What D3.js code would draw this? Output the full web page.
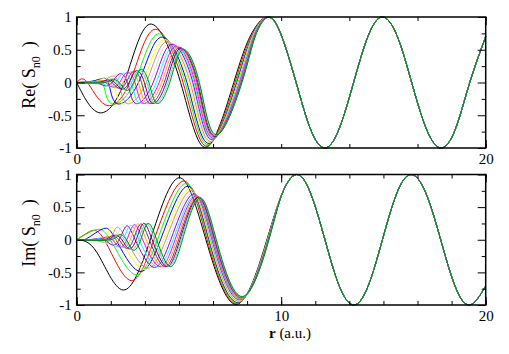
<!DOCTYPE html>
<html>
<head>
<meta charset="utf-8">
<script src="https://cdn.jsdelivr.net/npm/d3@7"></script>
<style>
  body { margin: 0; background: #fff; }
</style>
</head>
<body>
<div id="chart"></div>
<script>
// tick labels
const xLabelsTop = [0, 20]
const xLabelsBottom = [0, 10, 20]
const yLabels = [-1, -0.5, 0, 0.5, 1]

// xmgrace default palette, one colour per curve
const colors = ['#000000', '#ff0000', '#00ff00', '#0000ff', '#ffff00', '#bc8f8f', '#dcdcdc', '#9400d3',
  '#00ffff', '#ff00ff', '#ffa500', '#7221bc', '#670748', '#40e0d0', '#008b00']

// Re(S_n0): knots [r, value], one list per curve (up to the merge near r = 9.4)
const reHeads = [
  [[0, 0], [1.08, -0.46], [2.32, 0], [3.57, 0.89], [5.08, 0], [6.32, -0.99], [7.68, 0], [8.49, 0.71], [9.3, 1]],
  [[0, 0], [0.5, 0.01], [1.4, -0.34], [2.59, 0], [3.78, 0.81], [5.2, 0], [6.38, -0.97], [7.74, 0], [8.53, 0.71], [9.31, 1]],
  [[0, 0], [0.4, 0.01], [0.88, 0.03], [1.28, 0], [1.68, -0.32], [2.82, 0], [3.95, 0.74], [5.3, 0], [6.43, -0.95], [7.79, 0], [8.56, 0.71], [9.32, 1]],
  [[0, 0], [0.6, 0.01], [1.15, 0.05], [1.55, 0], [1.95, -0.32], [3.02, 0], [4.1, 0.69], [5.39, 0], [6.47, -0.93], [7.83, 0], [8.58, 0.71], [9.33, 1]],
  [[0, 0], [0.8, 0.01], [1.4, 0.07], [1.8, 0], [2.2, -0.32], [3.22, 0], [4.23, 0.65], [5.47, 0], [6.51, -0.91], [7.87, 0], [8.6, 0.71], [9.34, 1]],
  [[0, 0], [0.5, -0.005], [0.95, -0.02], [1.3, 0], [1.65, 0.09], [2.05, 0], [2.45, -0.32], [3.4, 0], [4.36, 0.62], [5.55, 0], [6.55, -0.9], [7.9, 0], [8.63, 0.71], [9.35, 1]],
  [[0, 0], [0.6, -0.005], [1.17, -0.03], [1.52, 0], [1.87, 0.11], [2.27, 0], [2.67, -0.32], [3.58, 0], [4.48, 0.6], [5.62, 0], [6.59, -0.88], [7.93, 0], [8.64, 0.71], [9.35, 1]],
  [[0, 0], [0.7, 0.005], [1.0, 0], [1.38, -0.05], [1.73, 0], [2.08, 0.13], [2.48, 0], [2.88, -0.32], [3.74, 0], [4.6, 0.58], [5.68, 0], [6.62, -0.87], [7.96, 0], [8.66, 0.71], [9.36, 1]],
  [[0, 0], [0.85, 0.01], [1.2, 0], [1.57, -0.06], [1.92, 0], [2.27, 0.14], [2.67, 0], [3.07, -0.32], [3.89, 0], [4.71, 0.56], [5.74, 0], [6.65, -0.86], [7.98, 0], [8.67, 0.71], [9.36, 1]],
  [[0, 0], [0.7, 0], [1.05, 0.02], [1.4, 0], [1.75, -0.07], [2.1, 0], [2.45, 0.15], [2.85, 0], [3.25, -0.32], [4.03, 0], [4.81, 0.55], [5.79, 0], [6.68, -0.85], [8.0, 0], [8.69, 0.71], [9.37, 1]],
  [[0, 0], [0.85, 0], [1.22, 0.03], [1.57, 0], [1.92, -0.08], [2.27, 0], [2.62, 0.16], [3.02, 0], [3.42, -0.32], [4.16, 0], [4.9, 0.54], [5.84, 0], [6.71, -0.84], [8.02, 0], [8.7, 0.71], [9.37, 1]],
  [[0, 0], [1.0, 0], [1.37, 0.03], [1.72, 0], [2.07, -0.09], [2.42, 0], [2.77, 0.17], [3.17, 0], [3.57, -0.32], [4.28, 0], [4.98, 0.53], [5.89, 0], [6.74, -0.83], [8.04, 0], [8.71, 0.71], [9.38, 1]],
  [[0, 0], [1.15, 0], [1.51, 0.04], [1.86, 0], [2.21, -0.1], [2.56, 0], [2.91, 0.18], [3.31, 0], [3.71, -0.32], [4.38, 0], [5.05, 0.52], [5.93, 0], [6.77, -0.82], [8.06, 0], [8.72, 0.71], [9.38, 1]],
  [[0, 0], [1.25, 0], [1.63, 0.05], [1.98, 0], [2.33, -0.11], [2.68, 0], [3.03, 0.19], [3.43, 0], [3.83, -0.32], [4.47, 0], [5.11, 0.51], [5.97, 0], [6.8, -0.81], [8.07, 0], [8.73, 0.71], [9.39, 1]],
  [[0, 0], [1.35, 0], [1.73, 0.05], [2.08, 0], [2.43, -0.12], [2.78, 0], [3.13, 0.2], [3.53, 0], [3.93, -0.32], [4.55, 0], [5.17, 0.5], [6.0, 0], [6.83, -0.8], [8.08, 0], [8.74, 0.71], [9.4, 1]]
]
// common tail, all curves lie on top of each other here
const reTail = [[10.02, 0.71], [10.73, 0], [11.43, -0.71], [12.13, -1], [12.83, -0.71], [13.54, 0], [14.25, 0.71],
  [14.95, 1], [15.67, 0.71], [16.38, 0], [17.1, -0.71], [17.82, -1], [18.52, -0.71], [19.22, 0], [20, 0.7]]

// Im(S_n0)
const imHeads = [
  [[0, 0], [1.0, -0.2], [2.27, -0.77], [3.6, 0], [5.0, 0.95], [6.32, 0], [7.84, -0.99], [9.3, 0]],
  [[0, 0], [0.6, 0.12], [1.35, 0], [2.59, -0.62], [3.78, 0], [5.2, 0.9], [6.38, 0], [7.86, -0.98], [9.31, 0]],
  [[0, 0], [0.9, 0.15], [1.65, 0], [2.82, -0.53], [3.95, 0], [5.3, 0.86], [6.43, 0], [7.88, -0.97], [9.32, 0]],
  [[0, 0], [0.5, 0.02], [1.3, 0.17], [1.92, 0], [3.02, -0.48], [4.1, 0], [5.39, 0.82], [6.47, 0], [7.9, -0.96], [9.33, 0]],
  [[0, 0], [1.05, -0.02], [1.4, 0], [1.65, 0.18], [2.18, 0], [3.22, -0.45], [4.23, 0], [5.47, 0.78], [6.51, 0], [7.92, -0.95], [9.34, 0]],
  [[0, 0], [0.8, 0], [1.3, -0.04], [1.65, 0], [1.95, 0.19], [2.43, 0], [3.4, -0.43], [4.36, 0], [5.55, 0.75], [6.55, 0], [7.94, -0.94], [9.35, 0]],
  [[0, 0], [1.0, 0], [1.52, -0.06], [1.87, 0], [2.22, 0.2], [2.65, 0], [3.58, -0.42], [4.48, 0], [5.62, 0.72], [6.59, 0], [7.96, -0.93], [9.35, 0]],
  [[0, 0], [0.6, 0], [1.03, 0.02], [1.38, 0], [1.73, -0.08], [2.08, 0], [2.43, 0.21], [2.86, 0], [3.74, -0.42], [4.6, 0], [5.68, 0.7], [6.62, 0], [7.98, -0.92], [9.36, 0]],
  [[0, 0], [0.8, 0], [1.22, 0.03], [1.57, 0], [1.92, -0.1], [2.27, 0], [2.62, 0.22], [3.05, 0], [3.89, -0.41], [4.71, 0], [5.74, 0.68], [6.65, 0], [8.0, -0.91], [9.36, 0]],
  [[0, 0], [1.0, 0], [1.4, 0.04], [1.75, 0], [2.1, -0.11], [2.45, 0], [2.8, 0.23], [3.23, 0], [4.03, -0.41], [4.81, 0], [5.79, 0.67], [6.68, 0], [8.02, -0.9], [9.37, 0]],
  [[0, 0], [1.15, 0], [1.57, 0.05], [1.92, 0], [2.27, -0.12], [2.62, 0], [2.97, 0.24], [3.4, 0], [4.16, -0.41], [4.9, 0], [5.84, 0.66], [6.71, 0], [8.04, -0.9], [9.37, 0]],
  [[0, 0], [1.3, 0], [1.72, 0.06], [2.07, 0], [2.42, -0.13], [2.77, 0], [3.12, 0.24], [3.55, 0], [4.28, -0.41], [4.98, 0], [5.89, 0.65], [6.74, 0], [8.06, -0.89], [9.38, 0]],
  [[0, 0], [1.45, 0], [1.86, 0.07], [2.21, 0], [2.56, -0.14], [2.91, 0], [3.26, 0.25], [3.69, 0], [4.38, -0.41], [5.05, 0], [5.93, 0.65], [6.77, 0], [8.08, -0.88], [9.38, 0]],
  [[0, 0], [1.55, 0], [1.98, 0.07], [2.33, 0], [2.68, -0.15], [3.03, 0], [3.38, 0.25], [3.81, 0], [4.47, -0.41], [5.11, 0], [5.97, 0.64], [6.8, 0], [8.09, -0.88], [9.39, 0]],
  [[0, 0], [1.65, 0], [2.08, 0.08], [2.43, 0], [2.78, -0.16], [3.13, 0], [3.48, 0.25], [3.91, 0], [4.55, -0.41], [5.17, 0], [6.0, 0.64], [6.83, 0], [8.1, -0.87], [9.4, 0]]
]
const imTail = [[10.05, 0.71], [10.74, 1], [11.44, 0.71], [12.14, 0], [12.84, -0.71], [13.55, -1], [14.25, -0.71],
  [14.95, 0], [15.65, 0.71], [16.35, 1], [17.08, 0.71], [17.8, 0], [18.5, -0.71], [19.22, -1], [20, -0.71]]

const font = "'Liberation Serif', 'Times New Roman', Times, serif"

let w = 509,
  h = 354

let svg = d3.select('#chart').append('svg')
  .attr('width', w)
  .attr('height', h)
  .attr('font-family', font)

function panel (op) {
  let x = d3.scaleLinear().domain([0, 20]).range([76.7, 485.7])
  let y = d3.scaleLinear().domain([-1, 1]).range([op.bottom, op.top])
  let g = svg.append('g')

  let line = d3.line()
    .x(d => x(d[0]))
    .y(d => y(d[1]))
    .curve(d3.curveNatural)

  // curves, black first so the last colour ends up on top
  g.selectAll('.curve')
    .data(op.heads.map(hd => hd.concat(op.tail)))
    .enter()
    .append('path')
    .attr('class', 'curve')
    .attr('d', line)
    .attr('fill', 'none')
    .attr('stroke', (d, i) => colors[i])
    .attr('stroke-width', 1)

  let minorX = d3.range(0, 20.001, op.xMinor)
  let minorY = [-0.75, -0.25, 0.25, 0.75]
  let tickStyle = a => a.attr('font-family', font)
    .call(s => s.select('.domain').remove())
    .call(s => s.selectAll('line').attr('stroke-width', 1))

  // minor ticks on all four sides, pointing inwards
  g.append('g').attr('transform', `translate(0,${op.bottom})`)
    .call(d3.axisBottom(x).tickValues(minorX).tickSize(-4).tickFormat('')).call(tickStyle)
  g.append('g').attr('transform', `translate(0,${op.top})`)
    .call(d3.axisTop(x).tickValues(minorX).tickSize(-4).tickFormat('')).call(tickStyle)
  g.append('g').attr('transform', 'translate(76.7,0)')
    .call(d3.axisLeft(y).tickValues(minorY).tickSize(-4).tickFormat('')).call(tickStyle)
  g.append('g').attr('transform', 'translate(485.7,0)')
    .call(d3.axisRight(y).tickValues(minorY).tickSize(-4).tickFormat('')).call(tickStyle)

  // major ticks with labels
  let fmt = d => String(d)
  let axB = g.append('g').attr('transform', `translate(0,${op.bottom})`)
    .call(d3.axisBottom(x).tickValues(op.xLabels).tickSize(-8).tickPadding(5).tickFormat(fmt)).call(tickStyle)
  g.append('g').attr('transform', `translate(0,${op.top})`)
    .call(d3.axisTop(x).tickValues(op.xLabels).tickSize(-8).tickFormat('')).call(tickStyle)
  let axL = g.append('g').attr('transform', 'translate(76.7,0)')
    .call(d3.axisLeft(y).tickValues(yLabels).tickSize(-8).tickPadding(5).tickFormat(fmt)).call(tickStyle)
  g.append('g').attr('transform', 'translate(485.7,0)')
    .call(d3.axisRight(y).tickValues(yLabels).tickSize(-8).tickFormat('')).call(tickStyle)

  axB.selectAll('text').attr('font-size', 15)
  axL.selectAll('text').attr('font-size', 15)

  // frame
  g.append('rect')
    .attr('x', 76.7)
    .attr('y', op.top)
    .attr('width', 485.7 - 76.7)
    .attr('height', op.bottom - op.top)
    .attr('fill', 'none')
    .attr('stroke', '#000')
    .attr('stroke-width', 1.5)

  // y title with subscript
  let t = g.append('text')
    .attr('transform', `translate(34.5,${op.titleY}) rotate(-90)`)
    .attr('text-anchor', 'middle')
    .attr('font-size', 18)
    .style('white-space', 'pre')
  t.append('tspan').text(op.title + '( S')
  t.append('tspan').attr('font-size', 12).attr('dy', 5).text('n0')
  t.append('tspan').attr('dy', -5).text('  )')
}

panel({ top: 17, bottom: 148, heads: reHeads, tail: reTail, xLabels: xLabelsTop, xMinor: 20 / 6, title: 'Re', titleY: 75 })
panel({ top: 174.5, bottom: 305, heads: imHeads, tail: imTail, xLabels: xLabelsBottom, xMinor: 10 / 6, title: 'Im', titleY: 233 })

// x title
let xt = svg.append('text')
  .attr('x', 290)
  .attr('y', 338)
  .attr('text-anchor', 'middle')
  .attr('font-size', 15)
  .style('white-space', 'pre')
xt.append('tspan').attr('font-weight', 'bold').text('r')
xt.append('tspan').text(' (a.u.)')
</script>
</body>
</html>
